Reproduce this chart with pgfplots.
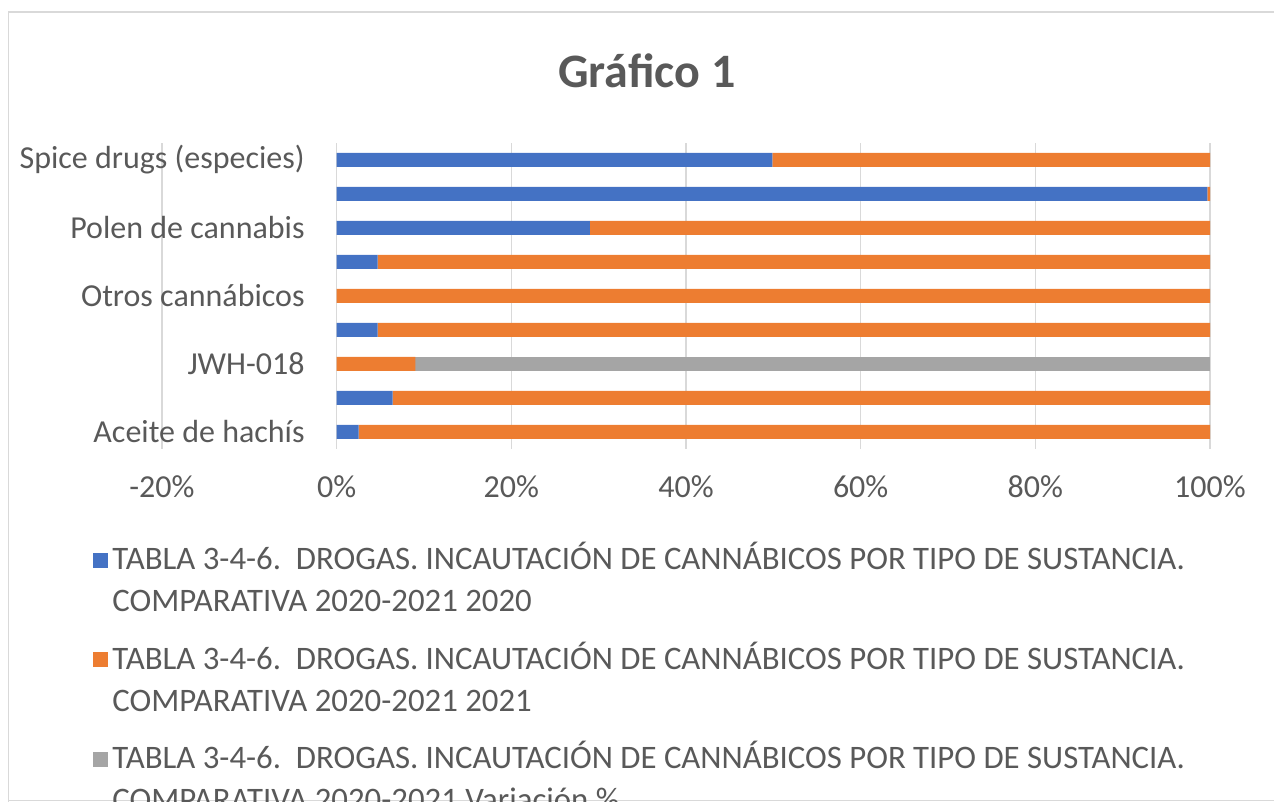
\documentclass[border=0pt]{standalone}
\usepackage{pgfplots}
\pgfplotsset{compat=1.18}
\usepackage{fontspec}
\setmainfont{Carlito}
\definecolor{cblue}{HTML}{4472C4}
\definecolor{corange}{HTML}{ED7D31}
\definecolor{cgray}{HTML}{A5A5A5}
\definecolor{txt}{HTML}{595959}
\definecolor{gridc}{HTML}{D9D9D9}
\begin{document}
\begin{tikzpicture}
\path[use as bounding box] (0pt,0pt) rectangle (637pt,401pt);
\clip (0pt,0pt) rectangle (637pt,401pt);
\draw[gridc, line width=0.8pt] (4.25pt,-5pt) -- (4.25pt,395pt) -- (660pt,395pt);
\draw[gridc, line width=0.8pt] (4.25pt,0.75pt) -- (660pt,0.75pt);
\node[anchor=base, font=\fontsize{24pt}{28pt}\selectfont\bfseries, text=txt] at (323.5pt,357pt) {Gráfico 1};
\begin{axis}[
  at={(81pt,176.5pt)}, anchor=south west,
  scale only axis, width=524pt, height=153pt,
  xbar stacked, bar width=7pt,
  xmin=-20, xmax=100, ymin=-0.5, ymax=8.5,
  xtick={-20,0,20,40,60,80,100},
  xticklabels={-20\%,0\%,20\%,40\%,60\%,80\%,100\%},
  ytick={0,2,4,6,8},
  yticklabels={Aceite de hachís,JWH-018,Otros cannábicos,Polen de cannabis,Spice drugs (especies)},
  xmajorgrids, ymajorgrids=false,
  grid style={color=gridc, line width=0.8pt},
  axis line style={draw=none},
  major tick length=0pt,
  tick style={draw=none},
  ticklabel style={font=\fontsize{16pt}{19pt}\selectfont, text=txt},
  xticklabel style={yshift=-10pt},
  yticklabel style={anchor=east, inner sep=0pt, xshift=71.5pt},
  legend style={
    at={(-0.0658,-0.290)}, anchor=north west,
    draw=none, fill=none, inner sep=0pt,
    legend cell align=left,
    row sep=9.6pt,
    nodes={align=left, text=txt, font=\fontsize{16.4pt}{21pt}\selectfont},
  },
  sq/.style={legend image code/.code={\fill[##1, draw=none] (0pt,5.25pt) rectangle (7.5pt,12.75pt);}},
]
\addplot[fill=cblue, draw=none, sq] coordinates {
(2.5,0) (6.4,1) (0,2) (4.7,3) (0,4) (4.7,5) (29.0,6) (99.7,7) (49.9,8)};
\addplot[fill=corange, draw=none, sq] coordinates {
(97.5,0) (93.6,1) (9.0,2) (95.3,3) (100,4) (95.3,5) (71.0,6) (0.3,7) (50.1,8)};
\addplot[fill=cgray, draw=none, sq] coordinates {
(0,0) (0,1) (91.0,2) (0,3) (0,4) (0,5) (0,6) (0,7) (0,8)};
\legend{TABLA 3-4-6.\ \ DROGAS. INCAUTACIÓN DE CANNÁBICOS POR TIPO DE SUSTANCIA.\\COMPARATIVA 2020-2021 2020,
TABLA 3-4-6.\ \ DROGAS. INCAUTACIÓN DE CANNÁBICOS POR TIPO DE SUSTANCIA.\\COMPARATIVA 2020-2021 2021,
TABLA 3-4-6.\ \ DROGAS. INCAUTACIÓN DE CANNÁBICOS POR TIPO DE SUSTANCIA.\\COMPARATIVA 2020-2021 Variación \%}
\end{axis}
\end{tikzpicture}
\end{document}
